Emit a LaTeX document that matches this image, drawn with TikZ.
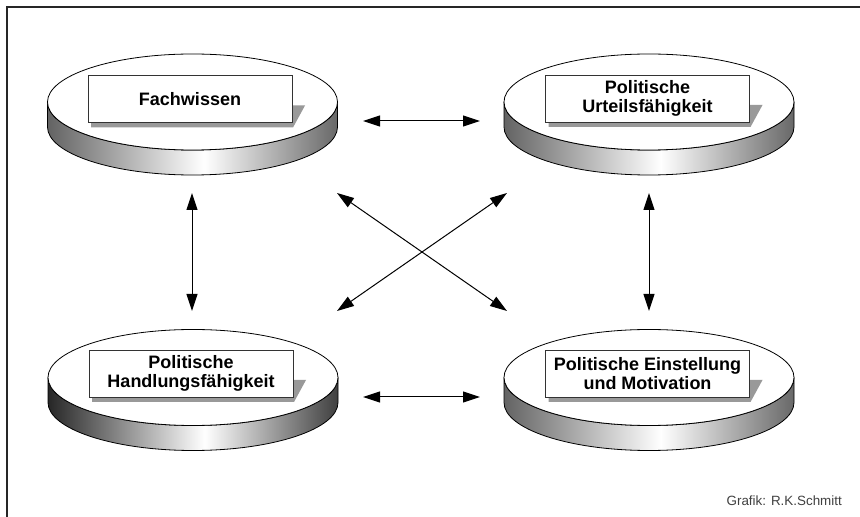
\documentclass[tikz,border=0pt]{standalone}
\usepackage{fontspec}
\setmainfont{Liberation Sans}
\usetikzlibrary{arrows.meta,calc,shapes.geometric}
\pgfdeclarehorizontalshading{sidegray}{100bp}{color(0bp)=(black!45); color(22bp)=(black!68); color(52bp)=(white); color(80bp)=(black!72); color(100bp)=(black!55)}
\pgfdeclarehorizontalshading{sidedark}{100bp}{color(0bp)=(black!95); color(25bp)=(black!85); color(52bp)=(white); color(78bp)=(black!85); color(100bp)=(black)}
\newcommand\mydisc[4]{%
  \shade[shading=#3, draw=black, line width=0.8pt]
    (#1-145,#2) -- ++(0,-25) arc[start angle=180,end angle=360,x radius=145,y radius=48]
    -- ++(0,25) arc[start angle=0,end angle=-180,x radius=145,y radius=48] -- cycle;
  \node[topface] (#4) at (#1,#2) {};
}
\newcommand\mybox[4]{%
  \fill[black!40] (#1-99,#2-23.5) -- (#1-99,#2-28.5) -- (#1+103,#2-28.5) -- (#1+115,#2-6.5) -- (#1+102,#2-6.5) -- cycle;
  \node[labelbox] (#3) at (#1,#2) {#4};
}
\begin{document}
\begin{tikzpicture}[x=1pt,y=1pt,
  topface/.style={ellipse, draw=black, fill=white, line width=0.8pt, minimum width=290pt, minimum height=96pt, inner sep=0pt},
  labelbox/.style={draw=black!80, fill=white, line width=0.9pt, minimum width=204pt, minimum height=47pt, inner sep=0pt, align=center, font=\fontsize{18}{19.5}\selectfont\bfseries},
  dbl/.style={{Triangle[length=17pt,width=11pt]}-{Triangle[length=17pt,width=11pt]}, line width=1pt},
  frame/.style={line width=1.1pt, black!85}]
\useasboundingbox (0,0) rectangle (860,517);
\coordinate (fTR) at (860,510);
\coordinate (fTL) at (7,510);
\coordinate (fBL) at (7,0);
\draw[frame] (fTR) -- (fTL) -- (fBL);

\mydisc{192.5}{415}{sidegray}{d1}
\mydisc{649}{415}{sidegray}{d2}
\mydisc{193}{139.5}{sidedark}{d3}
\mydisc{649}{139.5}{sidegray}{d4}

\mybox{190}{418}{b1}{Fachwissen}
\mybox{647.5}{418.5}{b2}{Politische\\Urteilsfähigkeit}
\mybox{191}{143.5}{b3}{Politische\\Handlungsfähigkeit}
\mybox{647.5}{143.5}{b4}{Politische Einstellung\\und Motivation}

\coordinate (a1l) at (363,396); \coordinate (a1r) at (480,396);
\coordinate (a2l) at (363,120); \coordinate (a2r) at (480,120);
\coordinate (v1t) at (192,324); \coordinate (v1b) at (192,206);
\coordinate (v2t) at (649,324); \coordinate (v2b) at (649,206);
\coordinate (dTL) at (337,324); \coordinate (dBR) at (507,206);
\coordinate (dTR) at (507,324); \coordinate (dBL) at (337,206);

\draw[dbl] (a1l) -- (a1r);
\draw[dbl] (a2l) -- (a2r);
\draw[dbl] (v1t) -- (v1b);
\draw[dbl] (v2t) -- (v2b);
\draw[dbl] (dTL) -- (dBR);
\draw[dbl] (dTR) -- (dBL);

\node[anchor=base east, font=\fontsize{13.4}{15}\selectfont, text=black!75, inner sep=0pt] (credit) at (842,11) {Grafik: R.K.Schmitt};
\end{tikzpicture}
\end{document}
